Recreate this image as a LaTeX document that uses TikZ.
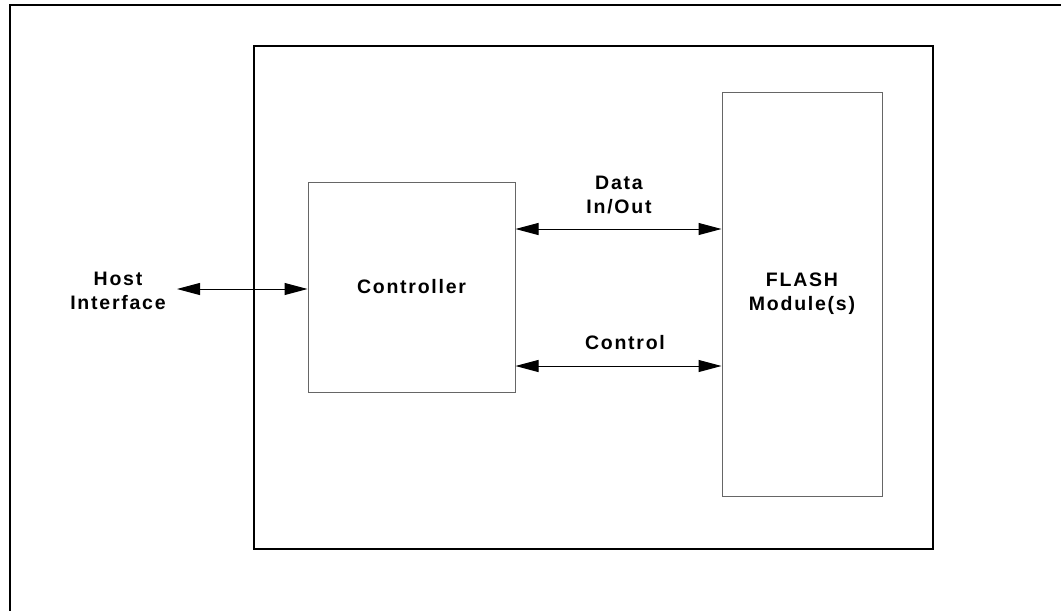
\documentclass[tikz,border=0pt]{standalone}
\usepackage{fontspec}
\newfontfamily\lbfont[LetterSpace=9]{Liberation Sans}
\newcommand{\lf}{\lbfont\bfseries\fontsize{19.5}{24}\selectfont}
\usetikzlibrary{arrows.meta}

\begin{document}
\begin{tikzpicture}[x=1pt, y=-1pt,
    blk/.style={draw=black!60, line width=1pt, inner sep=0pt, align=center, font=\lf},
    lbl/.style={align=center, font=\lf},
    bus/.style={{Triangle[length=23pt,width=12pt]}-{Triangle[length=23pt,width=12pt]}, line width=1pt}]
    \useasboundingbox (0,0) rectangle (1061,611);

    % outer frame, open to the right and bottom
    \draw [line width=2pt] (1061,5) -- (10,5) -- (10,611);

    % module enclosure
    \node [draw, line width=2.5pt, minimum width=679pt, minimum height=503pt] (card) at (593.5,297.5) {};

    % controller
    \node [blk, minimum width=207pt, minimum height=210pt] (ctrl) at (411.5,287) {Controller};

    % flash
    \node [blk, minimum width=160pt, minimum height=404pt] (flash) at (802,294) {FLASH\\Module(s)};

    % host side
    \node [lbl] (host) at (118,291) {Host\\Interface};
    \coordinate (hostend) at (177,289);
    \draw [bus] (hostend) -- (hostend -| ctrl.west);

    % busses
    \draw [bus] ([yshift=58pt]ctrl.east) -- ([yshift=58pt]ctrl.east -| flash.west);
    \node [lbl] (data) at (619,195) {Data\\In/Out};
    \draw [bus] ([yshift=-79pt]ctrl.east) -- ([yshift=-79pt]ctrl.east -| flash.west);
    \node [lbl] (cntl) at (625,343) {Control};
\end{tikzpicture}
\end{document}
